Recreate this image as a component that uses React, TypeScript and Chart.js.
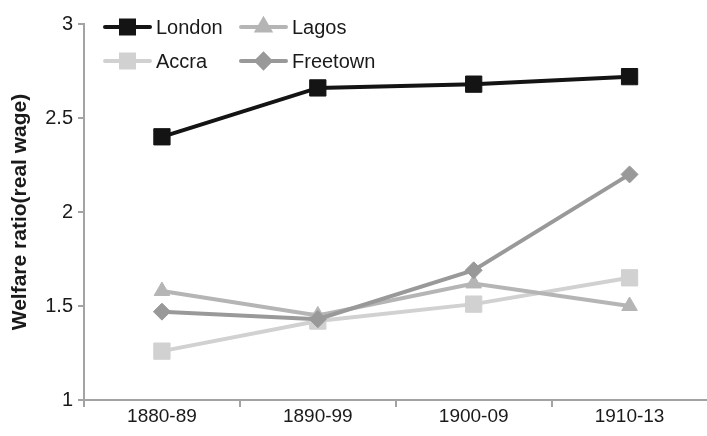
import { useEffect, useRef } from 'react';
import { Chart, registerables } from 'chart.js';
import { drawPoint } from 'chart.js/helpers';

Chart.register(...registerables);

// Periods on the x axis
const periods = ['1880-89', '1890-99', '1900-09', '1910-13'];

// Welfare ratios (real wage) per city
const london = [2.4, 2.66, 2.68, 2.72];
const freetown = [1.47, 1.43, 1.69, 2.2];
const lagos = [1.58, 1.45, 1.62, 1.5];
const accra = [1.26, 1.42, 1.51, 1.65];

const yTicks = [1, 1.5, 2, 2.5, 3];

const legendOrder = ['London', 'Lagos', 'Accra', 'Freetown'];

const FONT = '"Liberation Sans", Arial, Helvetica, sans-serif';
const AXIS = '#a3a3a3';
const TEXT = '#1a1a1a';

// Two-column key drawn inside the plot area, top left
const insetLegend = {
  id: 'insetLegend',
  afterDraw(chart: any) {
    const { ctx } = chart;
    ctx.save();
    legendOrder.forEach((name, i) => {
      const ds = chart.data.datasets.find((d: any) => d.label === name);
      if (!ds) return;
      const x = 105 + (i % 2) * 136;
      const y = 27 + Math.floor(i / 2) * 34;
      ctx.strokeStyle = ds.borderColor;
      ctx.lineWidth = 4;
      ctx.lineCap = 'round';
      ctx.beginPath();
      ctx.moveTo(x, y);
      ctx.lineTo(x + 45, y);
      ctx.stroke();
      ctx.fillStyle = ds.pointBackgroundColor;
      ctx.strokeStyle = ds.pointBorderColor;
      drawPoint(
        ctx,
        { pointStyle: ds.pointStyle, radius: ds.pointRadius * 0.8, borderWidth: 1, rotation: 0 },
        x + 22.5,
        y
      );
      ctx.fillStyle = TEXT;
      ctx.font = `20px ${FONT}`;
      ctx.textAlign = 'left';
      ctx.textBaseline = 'middle';
      ctx.fillText(name, x + 51, y + 1);
    });
    ctx.restore();
  },
};

function series(label: string, data: number[], color: string, pointStyle: string, radius: number) {
  return {
    label,
    data,
    borderColor: color,
    backgroundColor: color,
    pointBackgroundColor: color,
    pointBorderColor: color,
    borderWidth: 4,
    pointStyle,
    pointRadius: radius,
    pointBorderWidth: 1,
    tension: 0,
  };
}

export default function App() {
  const ref = useRef<HTMLCanvasElement>(null);

  useEffect(() => {
    if (!ref.current) return;
    const chart = new Chart(ref.current, {
      type: 'line',
      data: {
        labels: periods,
        datasets: [
          series('London', london, '#141414', 'rect', 11.5),
          series('Freetown', freetown, '#999999', 'rectRot', 8.5),
          series('Lagos', lagos, '#b5b5b5', 'triangle', 9),
          series('Accra', accra, '#d1d1d1', 'rect', 11.5),
        ] as any,
      },
      options: {
        responsive: false,
        animation: false,
        devicePixelRatio: 1,
        layout: { padding: { top: 24, right: 8, left: 0, bottom: 0 } },
        plugins: {
          legend: { display: false },
          tooltip: { enabled: false },
        },
        scales: {
          x: {
            offset: true,
            grid: {
              offset: true,
              drawOnChartArea: false,
              drawTicks: true,
              tickLength: 7,
              color: AXIS,
              lineWidth: 2,
            },
            border: { color: AXIS, width: 2 },
            ticks: { color: TEXT, font: { family: FONT, size: 19 }, padding: -2, maxRotation: 0 },
            afterFit: (scale: any) => {
              scale.height = 36;
            },
          },
          y: {
            min: 1,
            max: 3,
            afterBuildTicks: (scale: any) => {
              scale.ticks = yTicks.map((v) => ({ value: v }));
            },
            afterFit: (scale: any) => {
              scale.width = 84;
            },
            grid: {
              drawOnChartArea: false,
              drawTicks: true,
              tickLength: 6,
              color: AXIS,
              lineWidth: 2,
            },
            border: { color: AXIS, width: 2 },
            ticks: {
              color: TEXT,
              font: { family: FONT, size: 20 },
              padding: 5,
              callback: (v: any) => String(v),
            },
            title: {
              display: true,
              text: 'Welfare ratio(real wage)',
              color: TEXT,
              font: { family: FONT, size: 21, weight: 'bold' },
              padding: { top: 8, bottom: 0 },
            },
          },
        },
      },
      plugins: [insetLegend],
    });
    return () => chart.destroy();
  }, []);

  return (
    <div
      style={{
        position: 'fixed',
        left: 0,
        top: 0,
        width: 707,
        height: 436,
        overflow: 'hidden',
        background: '#ffffff',
      }}
    >
      <canvas ref={ref} width={720} height={436} style={{ display: 'block' }} />
    </div>
  );
}
